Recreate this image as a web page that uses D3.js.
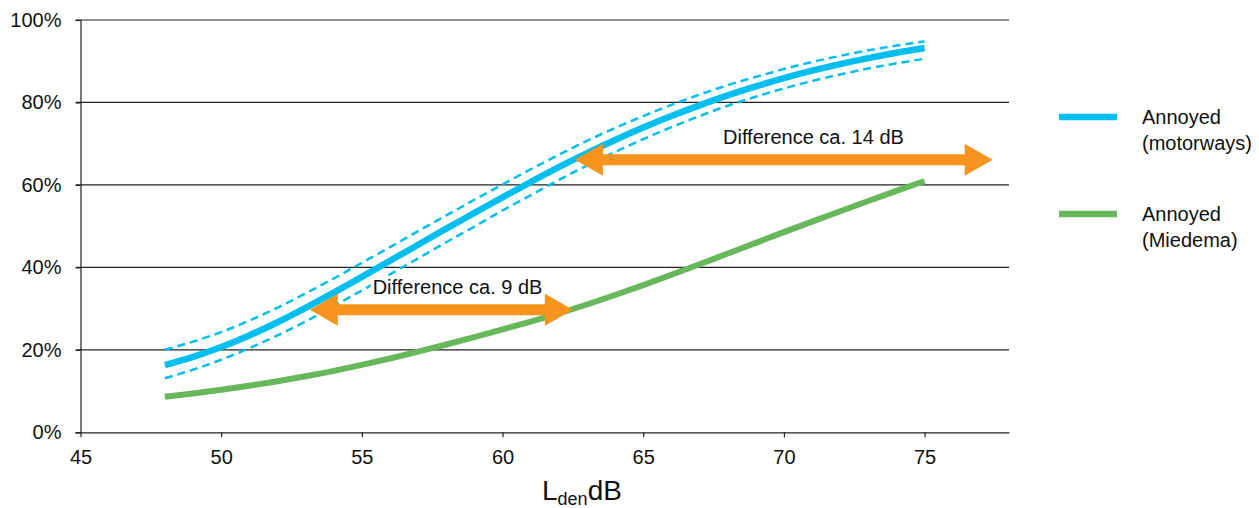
<!DOCTYPE html>
<html>
<head>
<meta charset="utf-8">
<script src="https://cdn.jsdelivr.net/npm/d3@7"></script>
<style>
  html, body { margin: 0; padding: 0; background: #fff; }
  svg { display: block; font-family: "Liberation Sans", Arial, Helvetica, sans-serif; }
</style>
</head>
<body>
<svg id="chart" width="1259" height="508"></svg>
<script>
// ---- data ----
const levels = [48,49,50,51,52,53,54,55,56,57,58,59,60,61,62,63,64,65,66,67,68,69,70,71,72,73,74,75];
const motorways = [16.3,18.3,20.7,23.5,26.7,30.2,33.9,37.7,41.6,45.5,49.4,53.2,57.0,60.7,64.3,67.7,70.9,73.9,76.7,79.3,81.7,83.9,85.9,87.7,89.3,90.75,92.05,93.2];
const motorwaysUpper = [20.0,22.0,24.3,27.1,30.2,33.7,37.3,41.1,44.9,48.8,52.6,56.4,60.1,63.8,67.3,70.7,73.8,76.7,79.4,81.9,84.2,86.2,88.1,89.8,91.3,92.65,93.8,94.8];
const motorwaysLower = [13.1,15.2,17.6,20.4,23.5,26.9,30.6,34.4,38.3,42.2,46.1,49.9,53.8,57.5,61.2,64.7,68.0,71.1,74.0,76.7,79.2,81.4,83.4,85.2,86.8,88.25,89.5,90.6];
const miedema = [8.6,9.4,10.3,11.3,12.4,13.6,14.9,16.35,17.9,19.55,21.3,23.1,24.95,26.85,28.85,31.0,33.3,35.7,38.2,40.75,43.35,45.95,48.55,51.1,53.6,56.1,58.55,60.95];

const xTicks = [45,50,55,60,65,70,75];
const yTicks = [0,20,40,60,80,100];

const arrowFrom  = [53.15, 62.57];
const arrowTo    = [62.5, 77.42];
const arrowLevel = [29.7, 66.1];
const arrowLabels = ["Difference ca. 9 dB", "Difference ca. 14 dB"];
const arrowLabelX = [58.4, 71.05];

const legendLabels = [["Annoyed","(motorways)"],["Annoyed","(Miedema)"]];

// ---- styles ----
const BLUE = "#00BEF0", GREEN = "#67B85A", ORANGE = "#F7941D", GRID = "#222";

const svg = d3.select("#chart");
const x = d3.scaleLinear().domain([45, 78]).range([80.5, 1009]);
const y = d3.scaleLinear().domain([0, 100]).range([432.3, 20]);

// gridlines
svg.append("g").selectAll("line").data(yTicks.filter(d => d > 0)).join("line")
  .attr("x1", 76).attr("x2", x(78)).attr("y1", d => y(d)).attr("y2", d => y(d))
  .attr("stroke", GRID).attr("stroke-width", 1.2);

// y axis
const yAxis = svg.append("g").attr("transform", `translate(${x(45)},0)`)
  .call(d3.axisLeft(y).tickValues(yTicks).tickFormat(d => d + "%").tickSize(5).tickPadding(14));
yAxis.select(".domain").attr("stroke", GRID).attr("stroke-width", 1.2);
yAxis.selectAll(".tick line").attr("stroke", GRID).attr("stroke-width", 1.2);
yAxis.selectAll("text").attr("font-size", 20).attr("fill", "#111")
  .attr("font-family", "Liberation Sans, Arial, sans-serif");

// x axis
const xAxis = svg.append("g").attr("transform", `translate(0,${y(0)})`)
  .call(d3.axisBottom(x).tickValues(xTicks).tickSize(5).tickPadding(13).tickSizeOuter(0));
xAxis.select(".domain").attr("stroke", GRID).attr("stroke-width", 1.2);
xAxis.selectAll(".tick line").attr("stroke", GRID).attr("stroke-width", 1.2);
xAxis.selectAll("text").attr("font-size", 20).attr("fill", "#111")
  .attr("font-family", "Liberation Sans, Arial, sans-serif");

// x axis title
const title = svg.append("text").attr("x", 542).attr("y", 500).attr("fill", "#111")
  .attr("font-size", 28);
title.append("tspan").text("L");
title.append("tspan").attr("font-size", 18).attr("dy", 5).text("den");
title.append("tspan").attr("dy", -5).text("dB");

// lines
const line = vals => d3.line().x((d, i) => x(levels[i])).y(d => y(d)).curve(d3.curveMonotoneX)(vals);

svg.append("path").attr("d", line(miedema)).attr("fill", "none")
  .attr("stroke", GREEN).attr("stroke-width", 6);
[motorwaysUpper, motorwaysLower].forEach(v => {
  svg.append("path").attr("d", line(v)).attr("fill", "none")
    .attr("stroke", BLUE).attr("stroke-width", 2.5).attr("stroke-dasharray", "8,5");
});
svg.append("path").attr("d", line(motorways)).attr("fill", "none")
  .attr("stroke", BLUE).attr("stroke-width", 6.5);

// arrows + labels
arrowFrom.forEach((a, i) => {
  const x1 = x(a), x2 = x(arrowTo[i]), yy = y(arrowLevel[i]);
  const hl = 28, hh = 16, sh = 5.5;
  const pts = [
    [x1, yy], [x1 + hl, yy - hh], [x1 + hl, yy - sh], [x2 - hl, yy - sh], [x2 - hl, yy - hh],
    [x2, yy], [x2 - hl, yy + hh], [x2 - hl, yy + sh], [x1 + hl, yy + sh], [x1 + hl, yy + hh]
  ];
  const t = svg.append("text").attr("x", x(arrowLabelX[i])).attr("y", yy - 16)
    .attr("text-anchor", "middle").attr("font-size", 20).attr("fill", "#111")
    .text(arrowLabels[i]);
  const bb = t.node().getBBox();
  svg.insert("rect", () => t.node())
    .attr("x", bb.x - 2).attr("y", bb.y).attr("width", bb.width + 4).attr("height", bb.height - 2)
    .attr("fill", "#fff");
  svg.insert("polygon", () => t.node().previousSibling).attr("points", pts.map(p => p.join(",")).join(" "))
    .attr("fill", ORANGE);
});

// legend
const legColors = [BLUE, GREEN];
const legY = [117, 214];
legendLabels.forEach((lab, i) => {
  svg.append("line").attr("x1", 1059).attr("x2", 1117).attr("y1", legY[i]).attr("y2", legY[i])
    .attr("stroke", legColors[i]).attr("stroke-width", 6.5);
  const t = svg.append("text").attr("x", 1142).attr("y", legY[i] + 6.5)
    .attr("font-size", 20).attr("fill", "#111");
  lab.forEach((s, j) => t.append("tspan").attr("x", 1142).attr("dy", j === 0 ? 0 : 26).text(s));
});
</script>
</body>
</html>
